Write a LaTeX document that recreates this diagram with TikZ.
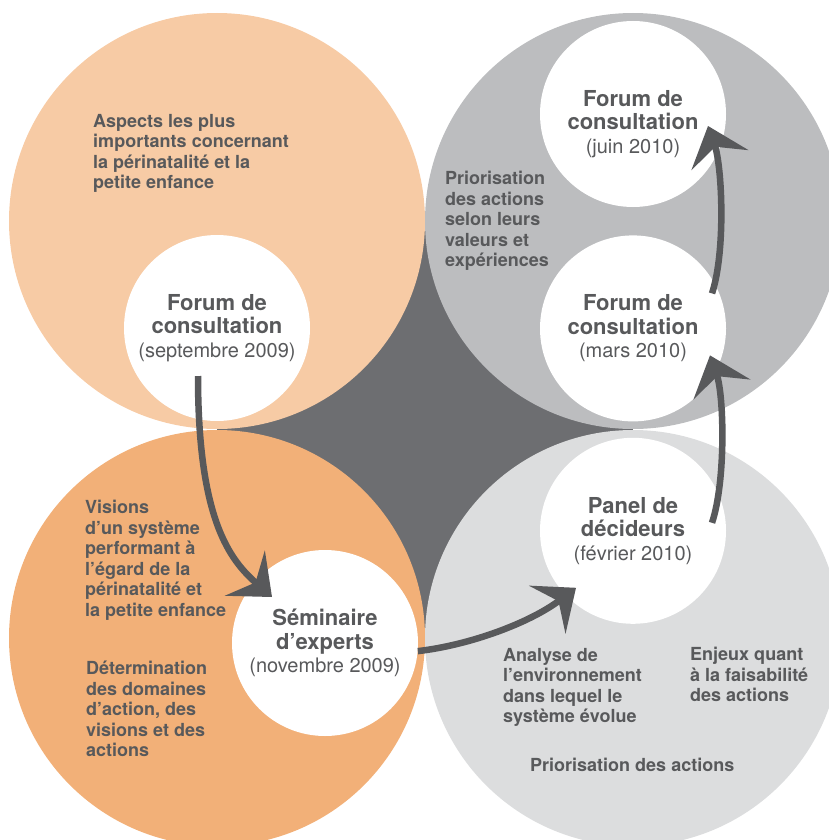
\documentclass[tikz,border=0pt]{standalone}
\usepackage{fontspec}
\setmainfont{TeX Gyre Heros}
\usepackage{tikz}
\usetikzlibrary{arrows.meta,positioning}
\definecolor{peach}{HTML}{F7CBA5}
\definecolor{myorange}{HTML}{F2B078}
\definecolor{midgray}{HTML}{BCBDBF}
\definecolor{palegray}{HTML}{DCDDDE}
\definecolor{coregray}{HTML}{6D6E71}
\definecolor{txtgray}{HTML}{58595B}
\tikzstyle{stage} = [circle, fill=white, minimum size=186pt, inner sep=0pt,
    align=center, text=txtgray, font=\bfseries\fontsize{22}{23.5}\selectfont]
\tikzstyle{desc} = [anchor=north west, inner sep=0pt, align=left, text=txtgray,
    font=\bfseries\fontsize{18}{20.5}\selectfont]
\tikzstyle{line} = [draw=txtgray, line width=6.5pt,
    -{Stealth[length=36pt, width=60pt, inset=14pt]}]
\newcommand{\stagedate}[1]{{\mdseries\fontsize{20}{23.5}\selectfont #1}}

\begin{document}
\begin{tikzpicture}[x=1pt, y=-1pt]
    \useasboundingbox (0,0) rectangle (829,840);
    \clip (0,0) rectangle (829,840);

    % Background circles
    \fill[coregray] (217,221) rectangle (633,638);
    \fill[peach] (217,221) circle (208pt);
    \fill[midgray] (633,221) circle (208pt);
    \fill[myorange] (217,638) circle (208pt);
    \fill[palegray] (633,638) circle (208pt);

    % Place nodes
    \node [stage] (sept) at (217,328) {Forum de\\consultation\\\stagedate{(septembre 2009)}};
    \node [stage] (juin) at (633,114) {\rule{0pt}{36pt}Forum de\\consultation\\\stagedate{(juin 2010)}};
    \node [stage, below = 28pt of juin] (mars) {Forum de\\consultation\\\stagedate{(mars 2010)}};
    \node [stage, below = 16pt of mars] (panel) {Panel de\\décideurs\\\stagedate{(février 2010)}};
    \node [stage] (sem) at (325,643) {Séminaire\\d’experts\\\stagedate{(novembre 2009)}};

    \node [desc] (aspects) at (93,114) {Aspects les plus\\importants concernant\\la périnatalité et la\\petite enfance};
    \node [desc] (valeurs) at (445,171) {Priorisation\\des actions\\selon leurs\\valeurs et\\expériences};
    \node [desc] (visions) at (85,500) {Visions\\d’un système\\performant à\\l’égard de la\\périnatalité et\\la petite enfance};
    \node [desc] (domaines) at (86,661) {Détermination\\des domaines\\d’action, des\\visions et des\\actions};
    \node [desc] (analyse) at (503,648) {Analyse de\\l’environnement\\dans lequel le\\système évolue};
    \node [desc] (enjeux) at (690,647) {Enjeux quant\\à la faisabilité\\des actions};
    \node [desc] (priorite) at (530,758) {Priorisation des actions};

    % Arrows
    \draw [line] ([shift={(-19,48)}]sept.center) .. controls +(0,144) and +(-42,-37) .. ([shift={(-53,-46)}]sem.center);
    \draw [line] (sem.-5) .. controls +(52,-6) and +(-46,35) .. ([shift={(-57,57)}]panel.center);
    \draw [line] ([shift={(79,-8)}]panel.center) .. controls +(14,-42) and +(14,40) .. ([shift={(77,27)}]mars.center);
    \draw [line] ([shift={(79,-35)}]mars.center) .. controls +(14,-43) and +(14,40) .. ([shift={(75,12)}]juin.center);
\end{tikzpicture}
\end{document}
